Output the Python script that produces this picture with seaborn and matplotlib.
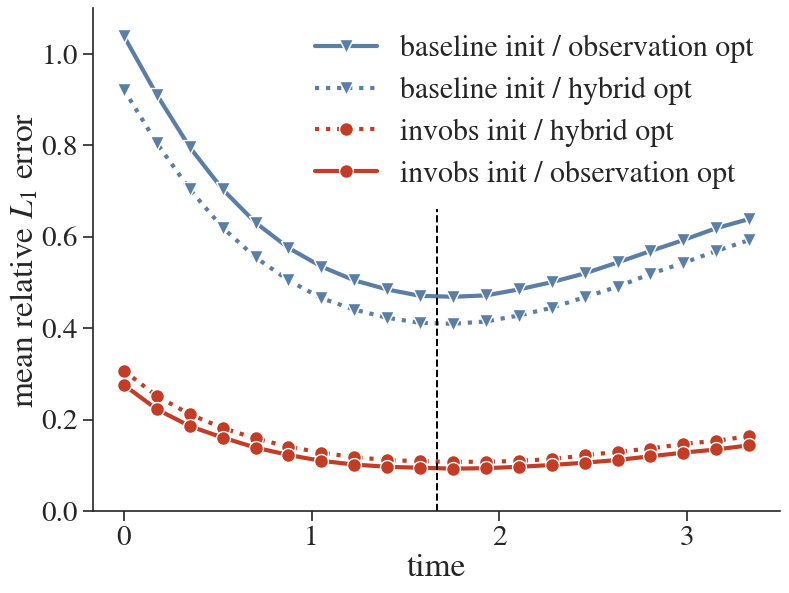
import matplotlib
matplotlib.use("Agg")
import matplotlib.pyplot as plt
import seaborn as sns
import pandas as pd

# time grid and mean relative L1 error per method
time = [0.0, 0.175, 0.351, 0.526, 0.702, 0.877, 1.053, 1.228, 1.404, 1.579,
        1.754, 1.930, 2.105, 2.281, 2.456, 2.632, 2.807, 2.982, 3.158, 3.333]
baseline_obs = [1.039, 0.911, 0.796, 0.704, 0.631, 0.576, 0.535, 0.505, 0.485, 0.471,
                0.469, 0.472, 0.485, 0.501, 0.520, 0.544, 0.569, 0.593, 0.619, 0.639]
baseline_hyb = [0.922, 0.805, 0.704, 0.620, 0.555, 0.505, 0.466, 0.441, 0.423, 0.412,
                0.410, 0.415, 0.428, 0.445, 0.468, 0.491, 0.519, 0.543, 0.569, 0.593]
invobs_hyb = [0.307, 0.252, 0.212, 0.182, 0.159, 0.141, 0.128, 0.118, 0.112, 0.109,
              0.108, 0.108, 0.110, 0.114, 0.122, 0.130, 0.137, 0.147, 0.154, 0.164]
invobs_obs = [0.276, 0.223, 0.186, 0.161, 0.139, 0.123, 0.110, 0.102, 0.097, 0.095,
              0.093, 0.094, 0.097, 0.101, 0.106, 0.112, 0.120, 0.128, 0.135, 0.144]
t_switch = 5 / 3

labels = ['baseline init / observation opt', 'baseline init / hybrid opt',
          'invobs init / hybrid opt', 'invobs init / observation opt']
series = [baseline_obs, baseline_hyb, invobs_hyb, invobs_obs]

blue = '#5a7ea6'
red = '#c43c25'
colors = [blue, blue, red, red]
styles = ['-', ':', ':', '-']
markers = ['v', 'v', 'o', 'o']

sns.set_theme(style='ticks')
plt.rcParams['font.family'] = ['STIXGeneral', 'DejaVu Serif']
plt.rcParams['mathtext.fontset'] = 'stix'

fig, ax = plt.subplots(figsize=(7.89, 5.93), dpi=100)
fig.subplots_adjust(left=0.1175, right=0.989, bottom=0.138, top=0.986)

for lab, vals, c, ls, m in zip(labels, series, colors, styles, markers):
    df = pd.DataFrame({'time': time, 'err': vals})
    sns.lineplot(data=df, x='time', y='err', ax=ax, color=c, linestyle=ls,
                 marker=m, markersize=10, markeredgecolor='white',
                 markeredgewidth=1, linewidth=3, label=lab)

ax.axvline(t_switch, ymin=0, ymax=0.6, color='black', linestyle='--', linewidth=1.4)

ax.set_ylim(0, 1.1)
ax.set_yticks([0.0, 0.2, 0.4, 0.6, 0.8, 1.0])
ax.set_xticks([0, 1, 2, 3])
ax.set_xlabel('time', fontsize=24, labelpad=2)
ax.set_ylabel('mean relative $L_1$ error', fontsize=24, labelpad=1)
ax.tick_params(labelsize=21, length=7, width=1.2)
for s in ax.spines.values():
    s.set_linewidth(1.2)
sns.despine(ax=ax)

ax.legend(frameon=False, fontsize=21.5, loc='upper right', handlelength=2.1,
          handletextpad=0.75, labelspacing=0.45, borderaxespad=0.5)

fig.savefig('out.png', dpi=100)
